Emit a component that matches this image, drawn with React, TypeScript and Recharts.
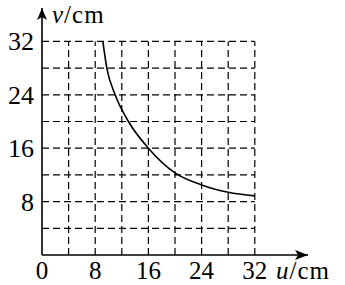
import React from 'react';
import { LineChart, Line, XAxis, YAxis, ReferenceLine, ReferenceDot } from 'recharts';

const uValues = [9.15, 9.75, 11, 13, 16, 20, 24, 28, 32];
const vValues = [32, 28, 24, 20, 16, 12.3, 10.5, 9.4, 8.85];
const xTicks = [0, 8, 16, 24, 32];
const yTicks = [8, 16, 24, 32];
const gridSteps = [4, 8, 12, 16, 20, 24, 28, 32];
const gridMax = 32;
const xMax = 40;
const yMax = 37;

const data = uValues.map((u, i) => ({ u, v: vValues[i] }));

const FONT = "'Liberation Serif', 'DejaVu Serif', serif";
const txt = { fontFamily: FONT };

const XTick = (props: any) => {
  const { x, y, payload } = props;
  return (
    <text x={x} y={y} dy={15} textAnchor="middle" style={txt} fontSize={25} fill="#000">
      {payload.value}
    </text>
  );
};

const YTick = (props: any) => {
  const { x, y, payload } = props;
  return (
    <text x={x} y={y} dy={9} textAnchor="end" style={txt} fontSize={26} fill="#000">
      {payload.value}
    </text>
  );
};

const XArrow = (props: any) => {
  const { cx, cy } = props;
  return (
    <g>
      <path d={`M${cx},${cy} L${cx - 13},${cy - 5} L${cx - 10},${cy} L${cx - 13},${cy + 5} Z`} fill="#000" />
      <text x={cx - 32} y={cy + 24} style={txt} fontSize={25} letterSpacing={1} fill="#000">
        <tspan fontStyle="italic">u</tspan>/cm
      </text>
    </g>
  );
};

const YArrow = (props: any) => {
  const { cx, cy } = props;
  return (
    <g>
      <path d={`M${cx},${cy} L${cx - 5},${cy + 12} L${cx},${cy + 9} L${cx + 5},${cy + 12} Z`} fill="#000" />
      <text x={cx + 10} y={cy + 15} style={txt} fontSize={25} letterSpacing={1} fill="#000">
        <tspan fontStyle="italic">v</tspan>/cm
      </text>
    </g>
  );
};

export default function App() {
  return (
    <div style={{ width: 345, height: 285, background: '#fff', fontFamily: FONT }}>
      <style>{`body{margin:0} svg text{font-family:${FONT}}`}</style>
      <LineChart width={345} height={285} data={data} margin={{ top: 8, right: 37, bottom: 0, left: 0 }}>
        {gridSteps.map((s) => (
          <ReferenceLine
            key={`v${s}`}
            segment={[{ x: s, y: 0 }, { x: s, y: gridMax }]}
            stroke="#000"
            strokeWidth={1.2}
            strokeDasharray="7 4"
            ifOverflow="visible"
          />
        ))}
        {gridSteps.map((s) => (
          <ReferenceLine
            key={`h${s}`}
            segment={[{ x: 0, y: s }, { x: gridMax, y: s }]}
            stroke="#000"
            strokeWidth={1.2}
            strokeDasharray="7 4"
            ifOverflow="visible"
          />
        ))}
        <XAxis
          dataKey="u"
          type="number"
          domain={[0, xMax]}
          ticks={xTicks}
          height={30}
          tickLine={false}
          tickSize={0}
          tickMargin={9}
          axisLine={{ stroke: '#000', strokeWidth: 1.6 }}
          tick={<XTick />}
          interval={0}
        />
        <YAxis
          type="number"
          domain={[0, yMax]}
          ticks={yTicks}
          width={42}
          tickLine={false}
          tickSize={0}
          tickMargin={8}
          axisLine={{ stroke: '#000', strokeWidth: 1.6 }}
          tick={<YTick />}
          interval={0}
        />
        <Line
          dataKey="v"
          type="monotone"
          stroke="#000"
          strokeWidth={1.6}
          dot={false}
          isAnimationActive={false}
        />
        <ReferenceDot x={xMax} y={0} ifOverflow="visible" shape={XArrow} />
        <ReferenceDot x={0} y={yMax} ifOverflow="visible" shape={YArrow} />
      </LineChart>
    </div>
  );
}
